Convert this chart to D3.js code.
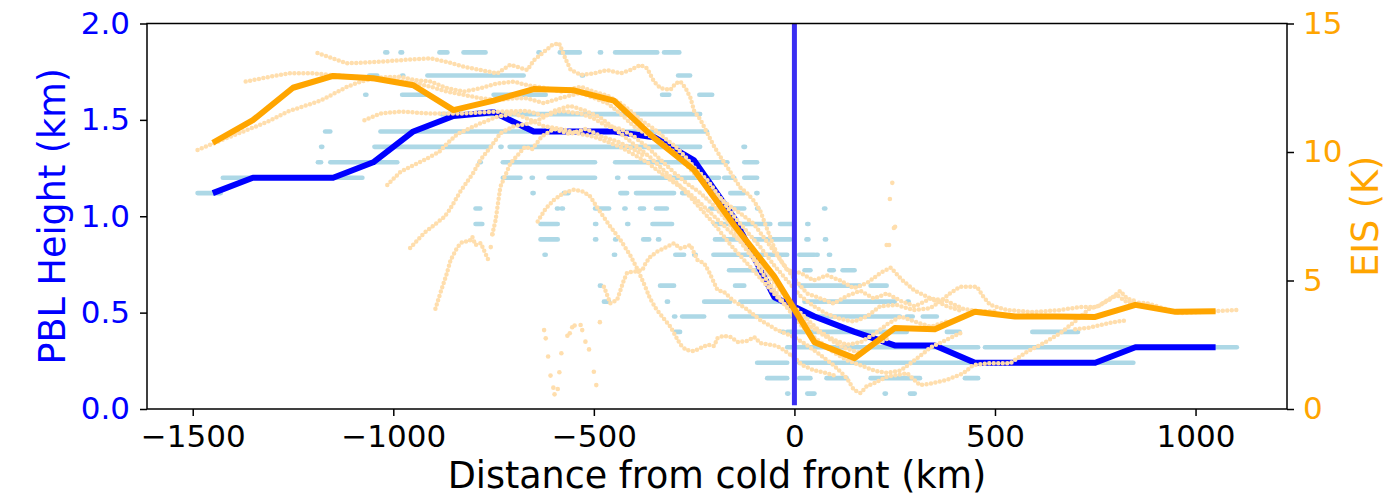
<!DOCTYPE html>
<html>
<head>
<meta charset="utf-8">
<script src="https://cdn.jsdelivr.net/npm/d3@7"></script>
<style>
  html, body { margin: 0; padding: 0; background: #fff; }
  svg { display: block; font-family: "DejaVu Sans", sans-serif; }
</style>
</head>
<body>
<svg id="chart" width="1386" height="497"></svg>
<script>
// bin centres (km from the cold front) of the two mean profiles
var binKm = [-1450, -1350, -1250, -1150, -1050, -950, -850, -750, -650, -550, -450, -350, -250,
             -150, -50, 50, 150, 250, 350, 450, 550, 650, 750, 850, 950, 1050];
var pblMean = [1.12, 1.20, 1.20, 1.20, 1.28, 1.44, 1.52, 1.54, 1.44, 1.44, 1.44, 1.41, 1.29,
               0.99, 0.58, 0.48, 0.40, 0.33, 0.33, 0.24, 0.24, 0.24, 0.24, 0.32, 0.32, 0.32];
var eisMean = [10.36, 11.24, 12.5, 12.96, 12.87, 12.6, 11.63, 12.0, 12.45, 12.4, 12.0, 10.55, 9.3,
               7.15, 5.15, 2.6, 1.98, 3.15, 3.1, 3.78, 3.6, 3.6, 3.58, 4.05, 3.78, 3.8];

var xTicks = [-1500, -1000, -500, 0, 500, 1000];
var pblTicks = [0, 0.5, 1.0, 1.5, 2.0];
var eisTicks = [0, 5, 10, 15];

// individual PBL retrievals: [height km, from km, to km] runs of points on each level
var pblRuns = [
  [1.85, -1020, -1015], [1.85, -982, -978], [1.85, -885, -865], [1.85, -825, -770], [1.85, -638, -635],
  [1.85, -585, -535], [1.85, -485, -482], [1.85, -447, -342], [1.85, -325, -287],
  [1.73, -1060, -1040], [1.73, -978, -975], [1.73, -915, -675], [1.73, -530, -527], [1.73, -290, -260],
  [1.63, -1070, -1067], [1.63, -978, -915], [1.63, -750, -620], [1.63, -330, -312], [1.63, -237, -205],
  [1.53, -880, -235],
  [1.44, -1170, -1157], [1.44, -1032, -218],
  [1.36, -1180, -1177], [1.36, -1047, -757], [1.36, -733, -730], [1.36, -710, -235], [1.36, -127, -123],
  [1.28, -1188, -1180], [1.28, -1157, -990], [1.28, -785, -782], [1.28, -727, -497], [1.28, -447, -167],
  [1.28, -125, -93],
  [1.20, -1425, -1077], [1.20, -727, -683], [1.20, -655, -652], [1.20, -613, -497], [1.20, -442, -439],
  [1.20, -410, -188], [1.20, -175, -150], [1.20, -125, -93],
  [1.12, -1488, -1430], [1.12, -653, -650], [1.12, -575, -563], [1.12, -434, -417], [1.12, -395, -300],
  [1.12, -280, -270], [1.12, -160, -125], [1.12, -95, -92],
  [1.04, -795, -783], [1.04, -592, -589], [1.04, -580, -577], [1.04, -497, -462], [1.04, -424, -421],
  [1.04, -385, -375], [1.04, -345, -318], [1.04, -210, -185], [1.04, -160, -125], [1.04, -93, -90],
  [1.04, 74, 77],
  [0.96, -795, -778], [0.96, -633, -590], [0.96, -497, -494], [0.96, -417, -414], [0.96, -354, -305],
  [0.96, -200, -167], [0.96, -135, -60], [0.96, -36, -2], [0.96, 32, 35],
  [0.88, -633, -590], [0.88, -497, -494], [0.88, -447, -444], [0.88, -377, -362], [0.88, -340, -337],
  [0.88, -198, -135], [0.88, -100, -10], [0.88, 30, 35], [0.88, 76, 79],
  [0.80, -623, -620], [0.80, -450, -447], [0.80, -297, -275], [0.80, -250, -246], [0.80, -202, -18],
  [0.80, 12, 50], [0.80, 55, 58], [0.80, 86, 89],
  [0.72, -163, -85], [0.72, 25, 40], [0.72, 87, 98], [0.72, 120, 150],
  [0.64, -485, -482], [0.64, -335, -300], [0.64, -148, -125], [0.64, 15, 163], [0.64, 190, 230],
  [0.557, -475, -462], [0.557, -318, -315], [0.557, -225, -160], [0.557, -135, -35], [0.557, 25, 250],
  [0.557, 282, 285],
  [0.48, -300, -297], [0.48, -280, -225], [0.48, -160, -10], [0.48, 25, 263], [0.48, 280, 295],
  [0.48, 320, 355],
  [0.40, -297, -285], [0.40, -30, -27], [0.40, -18, 280], [0.40, 380, 412], [0.40, 593, 707],
  [0.32, -18, 458], [0.32, 475, 1103],
  [0.24, -93, -18], [0.24, 12, 845],
  [0.16, -68, -18], [0.16, 12, 40], [0.16, 80, 130], [0.16, 190, 313], [0.16, 425, 458],
  [0.08, -18, -15], [0.08, 32, 50], [0.08, 225, 228], [0.08, 288, 300]
];

// individual EIS tracks, [km, K]
var eisTracks = [
  [[-1488, 10.08], [-1430, 10.45], [-1364, 10.86], [-1310, 11.2], [-1264, 11.57], [-1181, 12.0], [-1115, 12.54],
   [-1081, 12.74], [-1032, 12.9], [-982, 12.93], [-948, 12.8], [-907, 12.74], [-865, 12.48], [-824, 12.35],
   [-782, 12.48], [-741, 12.67], [-699, 12.74], [-666, 12.6], [-624, 12.5], [-583, 12.35], [-533, 12.54],
   [-500, 12.35], [-467, 12.2], [-434, 11.9], [-409, 11.6], [-384, 11.25], [-350, 10.9], [-320, 10.5],
   [-296, 10.2], [-271, 9.8], [-250, 9.4], [-217, 8.9], [-184, 8.2], [-151, 7.5], [-118, 6.9], [-85, 6.3],
   [-51, 5.6], [-18, 5.0], [15, 4.4], [48, 4.0], [81, 3.7], [115, 3.5], [148, 3.4], [181, 3.6], [214, 4.0],
   [255, 4.05], [296, 3.85], [338, 3.92], [363, 4.18], [388, 4.5], [413, 4.76], [455, 4.76], [471, 4.37],
   [488, 4.05], [530, 3.85], [595, 3.77], [662, 3.85], [712, 3.97], [754, 3.97], [787, 4.3], [804, 4.43],
   [829, 4.16], [878, 4.12], [960, 3.73], [1040, 3.8], [1103, 3.85]],
  [[-1368, 12.74], [-1300, 12.95], [-1257, 13.07], [-1200, 13.06], [-1157, 13.0], [-1100, 12.93], [-1066, 12.9],
   [-1000, 12.8], [-949, 12.7], [-907, 12.54], [-865, 12.35], [-824, 12.22], [-782, 12.09], [-741, 12.02],
   [-699, 12.09], [-666, 12.09], [-624, 11.9], [-583, 12.1], [-533, 12.3], [-500, 12.1], [-467, 11.9],
   [-434, 11.5], [-400, 11.0], [-370, 10.7], [-334, 10.4], [-300, 10.0], [-270, 9.5], [-240, 9.0], [-200, 8.4],
   [-170, 8.0], [-134, 7.6], [-101, 7.2], [-68, 6.5], [-35, 5.8], [-2, 5.1], [31, 4.5], [65, 4.3], [98, 4.1],
   [131, 4.4], [165, 4.6], [198, 4.3], [231, 4.5], [265, 4.2], [300, 4.0], [340, 4.3], [380, 4.0], [420, 3.8]],
  [[-1189, 13.85], [-1115, 13.45], [-1032, 13.51], [-960, 13.6], [-907, 13.64], [-865, 13.5], [-824, 13.32],
   [-782, 13.19], [-741, 13.06], [-708, 13.4], [-666, 13.19], [-649, 13.58], [-624, 13.9], [-604, 14.16],
   [-587, 14.24], [-570, 13.6], [-558, 13.2], [-533, 13.0], [-500, 13.06], [-467, 13.19], [-434, 13.06],
   [-409, 13.19], [-384, 13.38], [-367, 13.25], [-350, 12.74], [-334, 12.48], [-309, 12.42], [-296, 12.67],
   [-284, 12.74], [-271, 12.48], [-259, 12.1], [-250, 11.6], [-234, 11.25], [-217, 10.73], [-200, 10.21],
   [-184, 9.8], [-167, 9.4], [-151, 9.0], [-134, 8.6], [-118, 8.4], [-101, 8.1], [-85, 7.7], [-68, 7.0],
   [-51, 6.3], [-35, 5.8], [-18, 5.4], [15, 5.3], [48, 5.0], [81, 5.2], [115, 5.0], [148, 4.7], [181, 4.9],
   [215, 5.3], [240, 5.5], [270, 5.0], [300, 4.6], [340, 4.3], [380, 4.2], [420, 3.9], [460, 3.8], [500, 3.8]],
  [[-1072, 11.24], [-1032, 11.5], [-982, 11.57], [-907, 11.5], [-824, 11.5], [-741, 11.57], [-666, 11.6],
   [-624, 11.4], [-583, 11.6], [-533, 11.5], [-500, 11.3], [-467, 11.0], [-434, 10.9], [-400, 10.6],
   [-367, 10.2], [-334, 9.7], [-300, 9.2], [-270, 8.8], [-234, 8.4], [-200, 7.9], [-167, 7.3], [-134, 6.6],
   [-101, 5.9], [-68, 5.3], [-35, 4.6], [-2, 4.0], [31, 3.5], [65, 3.0], [98, 2.7], [131, 2.5], [165, 2.6],
   [198, 2.9], [231, 3.3], [265, 3.6], [300, 3.4], [340, 3.2], [380, 3.4]],
  [[-1015, 8.72], [-982, 9.23], [-948, 9.5], [-923, 9.69], [-886, 10.0], [-865, 10.34], [-840, 10.7],
   [-782, 11.12], [-741, 11.37], [-699, 11.5], [-666, 11.3], [-624, 11.0], [-583, 10.9], [-533, 10.7],
   [-500, 10.6], [-467, 10.4], [-434, 10.2], [-400, 9.9], [-367, 9.6], [-334, 9.2], [-300, 8.8], [-270, 8.5],
   [-234, 8.0], [-200, 7.5], [-167, 7.0], [-134, 6.5], [-101, 5.8], [-68, 5.0], [-35, 4.3], [-2, 3.6],
   [31, 3.0], [65, 2.6], [98, 2.2], [131, 1.9], [165, 1.7], [198, 1.5], [231, 1.4], [265, 1.5], [300, 1.9],
   [340, 2.4], [380, 2.7], [420, 3.0]],
  [[-958, 6.26], [-923, 6.85], [-898, 7.16], [-873, 7.47], [-860, 7.74], [-833, 8.46], [-800, 9.2],
   [-783, 9.69], [-757, 10.2], [-733, 10.73], [-700, 11.0], [-666, 11.1], [-630, 11.3], [-600, 11.6],
   [-560, 11.8], [-520, 11.6], [-480, 11.3], [-440, 10.8], [-400, 10.3], [-360, 9.8], [-320, 9.2],
   [-280, 8.6], [-240, 7.9], [-200, 7.2], [-160, 6.4], [-120, 5.7], [-80, 5.0], [-40, 4.3], [0, 3.7],
   [40, 3.2], [80, 2.8], [120, 2.4], [160, 2.2], [200, 2.5], [240, 2.8]],
  [[-895, 3.9], [-883, 4.5], [-868, 5.2], [-857, 5.8], [-840, 6.3], [-828, 6.5], [-810, 6.54], [-803, 6.7],
   [-795, 6.38], [-782, 6.46], [-766, 5.9], [-760, 5.7]],
  [[-753, 6.8], [-745, 7.35], [-733, 8.65],
   [-708, 9.56], [-671, 10.21], [-654, 10.11], [-630, 10.6], [-600, 10.9], [-560, 10.7], [-520, 10.9],
   [-480, 10.6], [-440, 10.4], [-400, 10.1], [-370, 9.8]],
  [[-640, 7.3], [-620, 7.8], [-600, 8.13], [-576, 8.4], [-551, 8.53], [-526, 8.46], [-509, 8.27],
   [-493, 7.87], [-476, 7.48], [-459, 7.1], [-434, 6.58], [-410, 6.0], [-390, 5.4], [-372, 4.76],
   [-360, 4.3], [-345, 3.9], [-330, 3.6], [-309, 3.2], [-295, 2.8], [-284, 2.5], [-270, 2.3], [-250, 2.25],
   [-230, 2.4], [-217, 2.5], [-200, 2.45], [-192, 2.75], [-176, 2.85], [-159, 2.8], [-140, 2.6],
   [-118, 2.65], [-100, 2.8], [-85, 2.56], [-60, 2.5], [-43, 2.45], [-27, 2.3], [0, 2.0], [20, 1.7],
   [50, 1.5], [80, 1.4], [100, 1.3]],
  [[-475, 4.76], [-459, 4.11], [-442, 4.24], [-425, 5.02], [-417, 5.31], [-400, 5.34],
   [-379, 5.41], [-371, 5.67], [-359, 5.93], [-342, 6.12], [-317, 6.32], [-300, 6.45], [-284, 6.25],
   [-259, 6.38], [-242, 5.8], [-225, 5.67], [-213, 5.34], [-192, 4.63], [-176, 4.56], [-151, 4.2],
   [-120, 3.9], [-85, 3.46], [-43, 3.07], [-2, 2.81], [30, 2.5], [65, 2.1], [98, 1.7], [131, 1.2],
   [148, 0.75], [165, 0.62], [181, 0.9], [198, 1.0], [231, 1.26], [265, 1.35], [281, 1.39], [313, 0.93],
   [338, 0.98], [380, 1.13], [421, 1.39], [446, 1.71], [488, 1.78], [538, 1.78], [580, 2.23], [621, 2.56],
   [663, 2.95], [704, 3.47], [737, 3.92], [754, 3.98], [790, 4.3], [812, 4.6], [829, 4.3], [850, 4.2]],
  [[700, 3.1], [730, 3.15], [760, 3.25], [795, 3.38], [832, 3.46]]
];

// EIS samples too far apart to join up, [km, K]
var eisSparse = [
  [-624, 3.07], [-620, 2.75], [-614, 2.04], [-608, 1.3], [-601, 0.83], [-598, 0.57], [-590, 0.78],
  [-586, 1.43], [-581, 2.17], [-566, 2.85], [-554, 3.18], [-533, 3.27], [-529, 3.07], [-521, 2.62],
  [-512, 2.32], [-500, 1.45], [-494, 0.93], [-485, 3.38], [-560, 2.95], [-548, 3.25],
  [-753, 6.8], [-757, 6.3], [230, 6.38], [236, 6.38], [238, 8.17], [244, 8.8], [248, 7.04], [251, 7.09]
];

var plotL = 147, plotR = 1287, plotT = 23.5, plotB = 409;

var svg = d3.select("#chart");

var x = d3.scaleLinear().domain([-1614, 1228]).range([plotL, plotR]);
var yPbl = d3.scaleLinear().domain([0, 2]).range([plotB, plotT]);
var yEis = d3.scaleLinear().domain([0, 15]).range([plotB, plotT]);

var plot = svg.append("g");

// light blue PBL points
plot.selectAll("line.pblpt")
  .data(pblRuns)
  .enter().append("line")
  .attr("class", "pblpt")
  .attr("x1", function(d) { return x(d[1]); })
  .attr("x2", function(d) { return x(d[2]); })
  .attr("y1", function(d) { return yPbl(d[0]); })
  .attr("y2", function(d) { return yPbl(d[0]); })
  .attr("stroke", "#add8e6")
  .attr("stroke-width", 4.6)
  .attr("stroke-linecap", "round");

// blue mean PBL
var pblLine = d3.line()
  .x(function(d, i) { return x(binKm[i]); })
  .y(function(d) { return yPbl(d); });

plot.append("path")
  .datum(pblMean)
  .attr("d", pblLine)
  .attr("fill", "none")
  .attr("stroke", "#0000ff")
  .attr("stroke-width", 6)
  .attr("stroke-linejoin", "round");

// individual EIS tracks
var trackLine = d3.line()
  .x(function(d) { return x(d[0]); })
  .y(function(d) { return yEis(d[1]); });

plot.selectAll("path.track")
  .data(eisTracks)
  .enter().append("path")
  .attr("class", "track")
  .attr("d", trackLine)
  .attr("fill", "none")
  .attr("stroke", "#ffdead")
  .attr("stroke-width", 4.5)
  .attr("stroke-linecap", "round")
  .attr("stroke-dasharray", "0 4.5");

plot.selectAll("circle.sparse")
  .data(eisSparse)
  .enter().append("circle")
  .attr("class", "sparse")
  .attr("cx", function(d) { return x(d[0]); })
  .attr("cy", function(d) { return yEis(d[1]); })
  .attr("r", 2.3)
  .attr("fill", "#ffdead");

// front position
plot.append("line")
  .attr("x1", x(0)).attr("x2", x(0))
  .attr("y1", yPbl(0.02)).attr("y2", yPbl(2))
  .attr("stroke", "#3a2ef2")
  .attr("stroke-width", 5);

// orange mean EIS
var eisLine = d3.line()
  .x(function(d, i) { return x(binKm[i]); })
  .y(function(d) { return yEis(d); });

plot.append("path")
  .datum(eisMean)
  .attr("d", eisLine)
  .attr("fill", "none")
  .attr("stroke", "#ffa500")
  .attr("stroke-width", 6)
  .attr("stroke-linejoin", "round");

// axes
var xAxis = d3.axisBottom(x).tickValues(xTicks).tickFormat(d3.format("d"))
  .tickSize(7).tickPadding(9).tickSizeOuter(0);
var lAxis = d3.axisLeft(yPbl).tickValues(pblTicks).tickFormat(d3.format(".1f"))
  .tickSize(7).tickPadding(10).tickSizeOuter(0);
var rAxis = d3.axisRight(yEis).tickValues(eisTicks).tickFormat(d3.format("d"))
  .tickSize(7).tickPadding(9).tickSizeOuter(0);

function style(g, color) {
  g.select(".domain").remove();
  g.selectAll(".tick line").attr("stroke", "#000").attr("stroke-width", 1.5);
  g.selectAll(".tick text").attr("fill", color).style("font-size", "31px")
    .style("font-family", "'DejaVu Sans', sans-serif");
}

svg.append("g").attr("transform", "translate(0," + plotB + ")").call(xAxis).call(style, "#000");
svg.append("g").attr("transform", "translate(" + plotL + ",0)").call(lAxis).call(style, "#0000ff");
svg.append("g").attr("transform", "translate(" + plotR + ",0)").call(rAxis).call(style, "#ffa500");

// frame
svg.append("rect")
  .attr("x", plotL).attr("y", plotT)
  .attr("width", plotR - plotL).attr("height", plotB - plotT)
  .attr("fill", "none").attr("stroke", "#000").attr("stroke-width", 1.5);

// axis labels
svg.append("text")
  .attr("x", (plotL + plotR) / 2).attr("y", 488)
  .attr("text-anchor", "middle")
  .style("font-size", "36.5px")
  .attr("fill", "#000")
  .text("Distance from cold front (km)");

svg.append("text")
  .attr("transform", "translate(65," + (plotT + plotB) / 2 + ") rotate(-90)")
  .attr("text-anchor", "middle")
  .style("font-size", "36.5px")
  .attr("fill", "#0000ff")
  .text("PBL Height (km)");

svg.append("text")
  .attr("transform", "translate(1378," + (plotT + plotB) / 2 + ") rotate(-90)")
  .attr("text-anchor", "middle")
  .style("font-size", "36.5px")
  .attr("fill", "#ffa500")
  .text("EIS (K)");
</script>
</body>
</html>
